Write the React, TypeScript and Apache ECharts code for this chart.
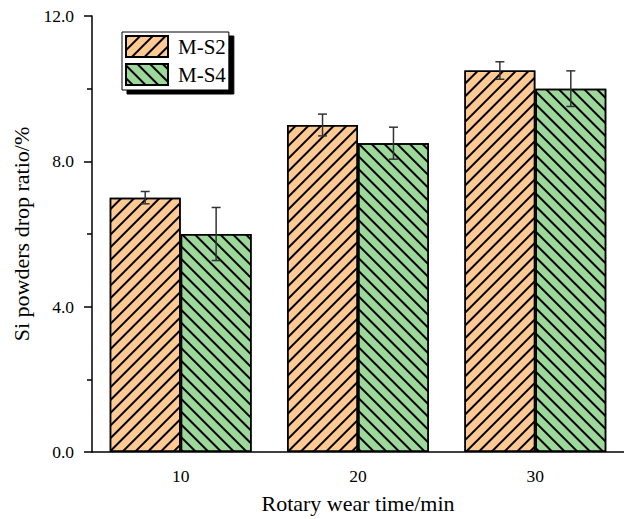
import React, { useEffect, useRef } from "react";
import * as echarts from "echarts";

const categories = ["10", "20", "30"];
const seriesNames = ["M-S2", "M-S4"];
const s2Values = [7.0, 9.0, 10.5];
const s4Values = [6.0, 8.5, 10.0];
const s2Errors = [0.17, 0.3, 0.24];
const s4Errors = [0.73, 0.44, 0.49];
const yTicks = [0, 4, 8, 12];

const FONT = "'Liberation Serif', 'Times New Roman', serif";

export default function App() {
  const ref = useRef<HTMLDivElement>(null);
  useEffect(() => {
    if (!ref.current) return;
    const chart = echarts.init(ref.current, undefined, { renderer: "svg" });

    const errData = (vals: number[], errs: number[]) =>
      vals.map((v, i) => [i, v, v - errs[i], v + errs[i]]);

    const makeErr = (offsetFrac: number) => (params: any, api: any) => {
      const idx = api.value(0);
      const lo = api.coord([idx, api.value(2)]);
      const hi = api.coord([idx, api.value(3)]);
      const band = api.size([1, 0])[0];
      const x = lo[0] + offsetFrac * band;
      const cap = 4.5;
      const style = { stroke: "#333", lineWidth: 1.5, fill: "none" };
      return {
        type: "group",
        children: [
          { type: "line", shape: { x1: x, y1: lo[1], x2: x, y2: hi[1] }, style },
          { type: "line", shape: { x1: x - cap, y1: lo[1], x2: x + cap, y2: lo[1] }, style },
          { type: "line", shape: { x1: x - cap, y1: hi[1], x2: x + cap, y2: hi[1] }, style },
        ],
      };
    };

    const option: any = {
      animation: false,
      backgroundColor: "#fff",
      grid: { left: 92, top: 16, width: 537, bottom: 66, containLabel: false },
      legend: {
        data: seriesNames,
        orient: "vertical",
        left: 122,
        top: 32,
        itemWidth: 42,
        itemHeight: 21,
        itemGap: 5,
        padding: [3, 3, 4, 3],
        backgroundColor: "#fff",
        borderColor: "#000",
        borderWidth: 1,
        shadowColor: "#000",
        shadowBlur: 0,
        shadowOffsetX: 5,
        shadowOffsetY: 4,
        icon: "rect",
        textStyle: { fontFamily: FONT, fontSize: 21, color: "#000", padding: [0, 0, 0, 5] },
      },
      xAxis: {
        type: "category",
        data: categories,
        name: "Rotary wear time/min",
        nameLocation: "middle",
        nameGap: 40,
        nameTextStyle: { fontFamily: FONT, fontSize: 22, color: "#000" },
        axisLine: { lineStyle: { color: "#000", width: 1.5 } },
        axisTick: { alignWithLabel: true, length: 7, lineStyle: { color: "#000", width: 1.5 } },
        axisLabel: { fontFamily: FONT, fontSize: 17.5, color: "#000", margin: 15 },
      },
      yAxis: {
        type: "value",
        min: yTicks[0],
        max: yTicks[yTicks.length - 1],
        interval: 4,
        name: "Si powders drop ratio/%",
        nameLocation: "middle",
        nameGap: 58,
        nameTextStyle: { fontFamily: FONT, fontSize: 22, color: "#000" },
        axisLine: { show: true, lineStyle: { color: "#000", width: 1.5 } },
        axisTick: { show: true, length: 8, lineStyle: { color: "#000", width: 1.5 } },
        minorTick: { show: true, splitNumber: 2, length: 5, lineStyle: { color: "#000", width: 1.5 } },
        splitLine: { show: false },
        axisLabel: {
          fontFamily: FONT,
          fontSize: 17.5,
          color: "#000",
          margin: 18,
          formatter: (v: number) => v.toFixed(1),
        },
      },
      series: [
        {
          name: seriesNames[0],
          type: "bar",
          data: s2Values,
          barGap: "0%",
          barCategoryGap: "20%",
          itemStyle: {
            color: "#FFC994",
            borderColor: "#000",
            borderWidth: 1.5,
            decal: {
              symbol: "rect",
              symbolSize: 1,
              color: "#000000",
              dashArrayX: [1, 0],
              dashArrayY: [1.3, 7.0],
              rotation: -Math.PI / 4,
            },
          },
        },
        {
          name: seriesNames[1],
          type: "bar",
          data: s4Values,
          barGap: "0%",
          barCategoryGap: "20%",
          itemStyle: {
            color: "#9DD89B",
            borderColor: "#000",
            borderWidth: 1.5,
            decal: {
              symbol: "rect",
              symbolSize: 1,
              color: "#010101",
              dashArrayX: [1, 0],
              dashArrayY: [1.3, 7.0],
              rotation: Math.PI / 4,
            },
          },
        },
        {
          type: "custom",
          name: "err1",
          data: errData(s2Values, s2Errors),
          renderItem: makeErr(-0.2),
          encode: { x: 0, y: [1, 2, 3] },
          z: 10,
          silent: true,
        },
        {
          type: "custom",
          name: "err2",
          data: errData(s4Values, s4Errors),
          renderItem: makeErr(0.2),
          encode: { x: 0, y: [1, 2, 3] },
          z: 10,
          silent: true,
        },
      ],
    };
    chart.setOption(option);
    return () => chart.dispose();
  }, []);
  return (
    <div
      ref={ref}
      style={{ position: "absolute", left: 0, top: 0, width: 624, height: 519 }}
    />
  );
}
